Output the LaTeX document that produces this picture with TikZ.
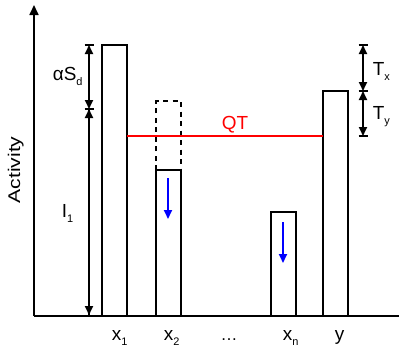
\documentclass[tikz,border=0pt]{standalone}
\usepackage{fontspec}
\setmainfont{Liberation Sans}
\usetikzlibrary{arrows.meta}
\newcommand\mysub[1]{\raisebox{-5bp}{\fontsize{11}{12}\selectfont #1}}
\begin{document}
\begin{tikzpicture}[x=1bp,y=-1bp,line width=1.7bp,
  lbl/.style={font=\fontsize{19}{22}\selectfont,inner sep=0pt,anchor=base west},
  barbox/.style={draw,line width=1.8bp,inner sep=0pt,outer sep=0pt,minimum width=25bp,anchor=south west},
  dimtip/.style={-{Triangle[length=9bp,width=8bp]}},
  bothtip/.style={{Triangle[length=9bp,width=8bp]}-{Triangle[length=9bp,width=8bp]}},
  tick/.style={line width=1.5bp},
  qt/.style={red,line width=1.7bp},
  down/.style={blue,line width=1.8bp,-{Triangle[length=9bp,width=8bp]}}]
\useasboundingbox (0,0) rectangle (402,346);
% axes
\coordinate (O) at (34,316);
\coordinate (ytop) at (34,5);
\coordinate (xend) at (399,316);
\draw[-{Triangle[length=10bp,width=9bp]}] (O) -- (ytop);
\draw (O) -- (xend);
% bars
\node[barbox,minimum height=271bp] (b1) at (102,316) {};
\node[barbox,minimum height=146bp] (b2) at (156,316) {};
\node[barbox,minimum height=104bp] (bn) at (271,316) {};
\node[barbox,minimum height=225bp] (by) at (323,316) {};
% dashed former top of x2
\draw[dash pattern=on 5bp off 4.5bp,line width=1.8bp] (b2.north west) -- ++(0,-69) -| (b2.north east);
% QT line
\coordinate (qtl) at (127,136);
\coordinate (qtr) at (323,136);
\draw[qt] (qtl) -- (qtr);
\node[lbl,red] (qtlabel) at (221,129) {QT};
% left dimensions
\coordinate (a1) at (89,45);
\coordinate (a2) at (89,109);
\coordinate (a3) at (89,315);
\draw[bothtip] (a1) -- (a2);
\draw[dimtip] (a2) -- (a3);
\draw[-{Triangle[length=9bp,width=8bp]}] (a3) -- (a2);
\draw[tick] ([xshift=-4.5bp]a1) -- ([xshift=4.5bp]a1);
\draw[tick] ([xshift=-4.5bp]a2) -- ([xshift=4.5bp]a2);
\node[lbl] (asd) at (52,80.5) {αS\mysub{d}};
\node[lbl] (i1) at (61,217.5) {I\mysub{1}};
% right dimensions
\coordinate (t1) at (363,45);
\coordinate (t2) at (363,91);
\coordinate (t3) at (363,136);
\draw[bothtip] (t1) -- (t2);
\draw[bothtip] (t2) -- (t3);
\draw[tick] ([xshift=-4.5bp]t1) -- ([xshift=4.5bp]t1);
\draw[tick] ([xshift=-4.5bp]t2) -- ([xshift=4.5bp]t2);
\draw[tick] ([xshift=-4.5bp]t3) -- ([xshift=4.5bp]t3);
\node[lbl] (tx) at (372,75) {T\mysub{x}};
\node[lbl] (ty) at (372,119.5) {T\mysub{y}};
% blue arrows
\coordinate (d1s) at (168,178);
\coordinate (d1e) at (168,219);
\coordinate (d2s) at (283,222);
\coordinate (d2e) at (283,263);
\draw[down] (d1s) -- (d1e);
\draw[down] (d2s) -- (d2e);
% x labels
\node[lbl] (lx1) at (111,340) {x\mysub{1}};
\node[lbl] (lx2) at (163,340) {x\mysub{2}};
\node[lbl,anchor=base] (ldots) at (229,340) {\fontsize{17}{20}\selectfont\dots};
\node[lbl] (lxn) at (282,340) {x\mysub{n}};
\node[lbl] (ly) at (334,340) {y};
% y axis label
\node[inner sep=0pt,anchor=base,rotate=90,font=\fontsize{17}{20}\selectfont] (act) at (20,170) {\scalebox{1.25}[1]{Activity}};
\end{tikzpicture}
\end{document}
